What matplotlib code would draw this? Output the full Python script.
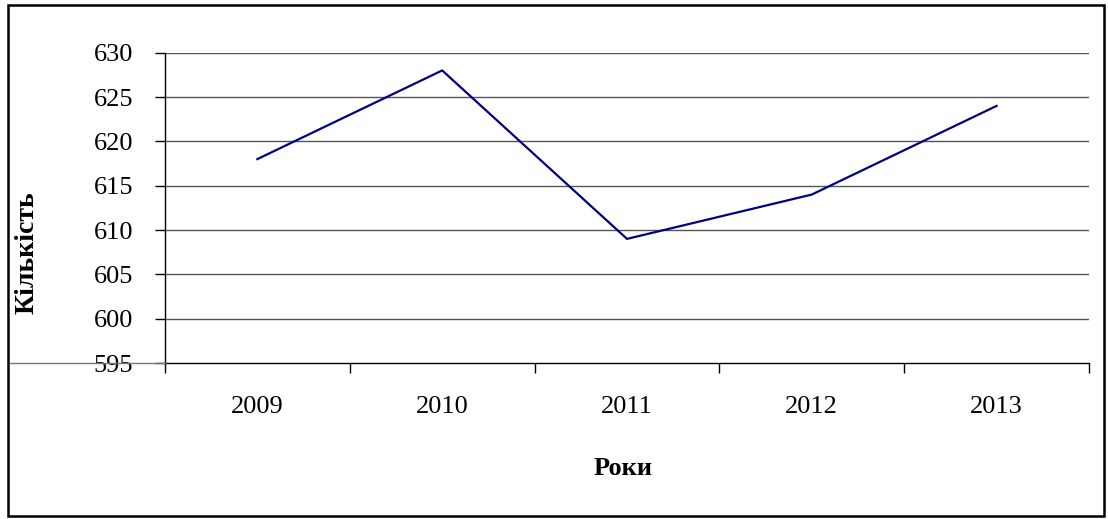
import matplotlib.pyplot as plt
from matplotlib.lines import Line2D
from matplotlib.patches import Rectangle

# Дані
roky = ["2009", "2010", "2011", "2012", "2013"]
kilkist = [618, 628, 609, 614, 624]
y_ticks = [595, 600, 605, 610, 615, 620, 625, 630]

plt.rcParams['font.family'] = ['Liberation Serif', 'DejaVu Serif']

W, H = 1108, 519
AX_L, AX_R, AX_T, AX_B = 165, 1089, 52.7, 363
fig = plt.figure(figsize=(W / 100, H / 100), dpi=100)
ax = fig.add_axes([AX_L / W, 1 - AX_B / H, (AX_R - AX_L) / W, (AX_B - AX_T) / H])

x = list(range(len(roky)))
ax.plot(x, kilkist, color='#000080', linewidth=1.6, zorder=3)

# Осі
ax.set_xlim(-0.5, len(roky) - 0.5)
ax.set_ylim(595, 630)
ax.set_yticks(y_ticks)
ax.set_yticklabels([str(v) for v in y_ticks], fontsize=19)
ax.tick_params(axis='y', length=7, width=1, pad=16, direction='out')

ax.set_xticks([i - 0.5 for i in range(len(roky) + 1)])
ax.set_xticklabels([])
ax.set_xticks(x, minor=True)
ax.set_xticklabels(roky, minor=True, fontsize=19)
ax.tick_params(axis='x', which='major', length=7, width=1, direction='out')
ax.tick_params(axis='x', which='minor', length=0, pad=24)

for y in y_ticks[1:]:
    ax.axhline(y, color='#555555', linewidth=1, zorder=1)

ax.spines['top'].set_visible(False)
ax.spines['right'].set_visible(False)
ax.spines['left'].set_linewidth(1)
ax.spines['bottom'].set_linewidth(1)

aw, ah = AX_R - AX_L, AX_B - AX_T
ax.set_xlabel("Роки", fontsize=19, fontweight='bold')
ax.xaxis.set_label_coords((623 - AX_L) / aw, -(457 - AX_B) / ah)
ax.set_ylabel("Кількість", fontsize=20, fontweight='bold')
ax.yaxis.set_label_coords(-(AX_L - 40) / aw, (AX_B - 253) / ah)

# Сіра лінія ліворуч від осі
fig.add_artist(Line2D([10 / W, AX_L / W], [1 - AX_B / H, 1 - AX_B / H],
                      color='#777777', linewidth=1))

# Рамка
fig.add_artist(Rectangle((8 / W, 3 / H), (1104 - 8) / W, (516 - 5) / H,
                         fill=False, edgecolor='black', linewidth=1.8,
                         transform=fig.transFigure))

fig.savefig("out.png", dpi=100, facecolor='white')
